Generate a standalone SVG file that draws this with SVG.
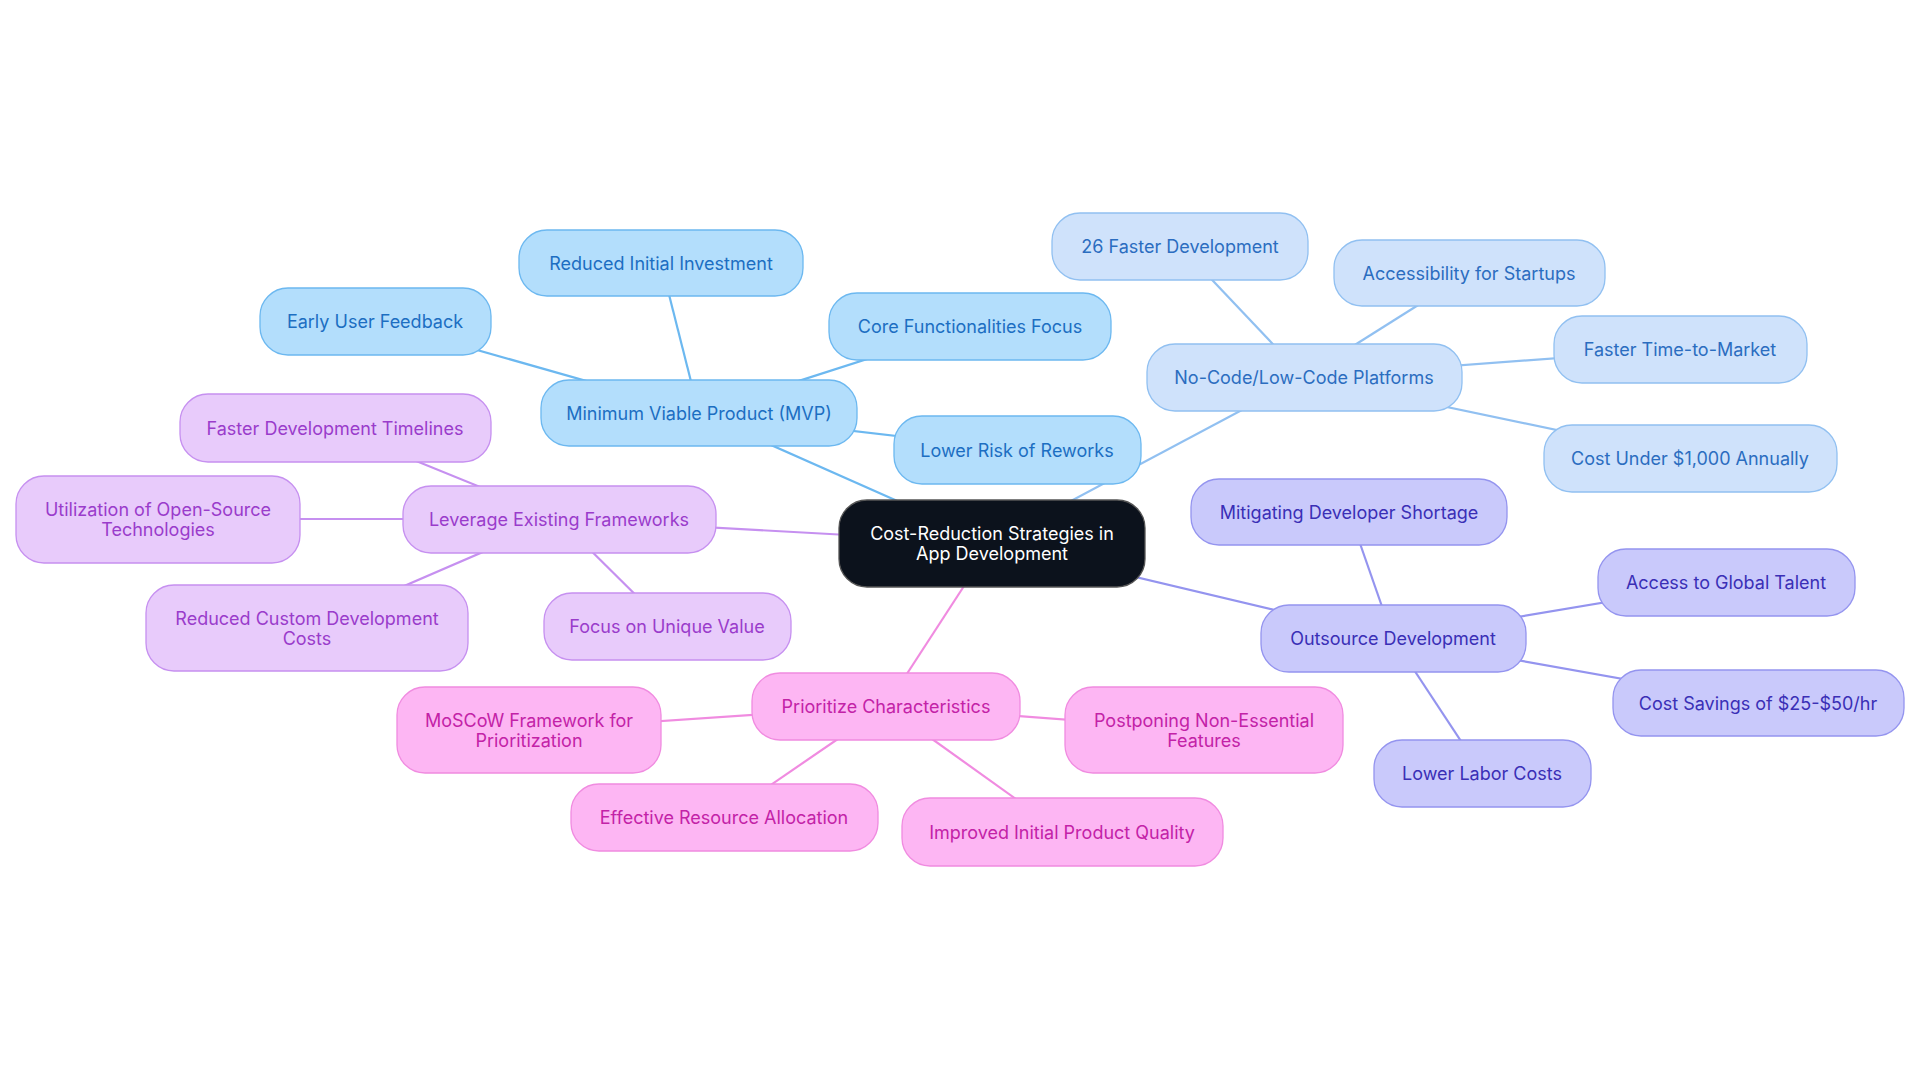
<svg xmlns="http://www.w3.org/2000/svg" width="1920" height="1083" viewBox="0 0 1920 1083">
<style>
text{font-family:Inter,"Noto Sans","Liberation Sans",sans-serif;font-size:18px;text-anchor:middle;dominant-baseline:central}
rect{stroke-width:1.3}
.c line{stroke-width:2.2}
.b rect{fill:#b3defc;stroke:#6cb8f0}.b text{fill:#1c6ec2}
.n rect{fill:#cfe2fb;stroke:#91c0f1}.n text{fill:#2b6dc0}
.o rect{fill:#c9c9fb;stroke:#9494ef}.o text{fill:#3a2fb6}
.l rect{fill:#e8cbfb;stroke:#c690f0}.l text{fill:#9a3ccb}
.p rect{fill:#fdb6f3;stroke:#f08be0}.p text{fill:#c322a7}
</style>
<rect width="1920" height="1083" fill="#fff" style="stroke:none"/>
<g class="c">
<g stroke="#6cb8f0"><line x1="992" y1="543" x2="699" y2="413"/><line x1="699" y1="413" x2="661" y2="263"/><line x1="699" y1="413" x2="375" y2="321"/><line x1="699" y1="413" x2="970" y2="326"/><line x1="699" y1="413" x2="1017" y2="450"/></g>
<g stroke="#91c0f1"><line x1="992" y1="543" x2="1304" y2="377"/><line x1="1304" y1="377" x2="1180" y2="246"/><line x1="1304" y1="377" x2="1469" y2="273"/><line x1="1304" y1="377" x2="1680" y2="349"/><line x1="1304" y1="377" x2="1690" y2="458"/></g>
<g stroke="#9494ef"><line x1="992" y1="543" x2="1393" y2="638"/><line x1="1393" y1="638" x2="1349" y2="512"/><line x1="1393" y1="638" x2="1726" y2="582"/><line x1="1393" y1="638" x2="1758" y2="703"/><line x1="1393" y1="638" x2="1482" y2="773"/></g>
<g stroke="#c690f0"><line x1="992" y1="543" x2="559" y2="519"/><line x1="559" y1="519" x2="335" y2="428"/><line x1="559" y1="519" x2="158" y2="519"/><line x1="559" y1="519" x2="307" y2="628"/><line x1="559" y1="519" x2="667" y2="626"/></g>
<g stroke="#f08be0"><line x1="992" y1="543" x2="886" y2="706"/><line x1="886" y1="706" x2="529" y2="730"/><line x1="886" y1="706" x2="1204" y2="730"/><line x1="886" y1="706" x2="724" y2="817"/><line x1="886" y1="706" x2="1062" y2="832"/></g>
</g>
<g id="center"><rect x="839" y="500" width="306" height="87" rx="28" fill="#0c121c" stroke="#555"/><text x="992" y="533" fill="#fff">Cost-Reduction Strategies in</text><text x="992" y="553" fill="#fff">App Development</text></g>
<g id="mvp" class="b"><rect x="541" y="380" width="316" height="66" rx="28"/><text x="699" y="413">Minimum Viable Product (MVP)</text></g>
<g id="rii" class="b"><rect x="519" y="230" width="284" height="66" rx="28"/><text x="661" y="263">Reduced Initial Investment</text></g>
<g id="euf" class="b"><rect x="260" y="288" width="231" height="67" rx="28"/><text x="375" y="321">Early User Feedback</text></g>
<g id="cff" class="b"><rect x="829" y="293" width="282" height="67" rx="28"/><text x="970" y="326">Core Functionalities Focus</text></g>
<g id="lrr" class="b"><rect x="894" y="416" width="247" height="68" rx="28"/><text x="1017" y="450">Lower Risk of Reworks</text></g>
<g id="ncl" class="n"><rect x="1147" y="344" width="315" height="67" rx="28"/><text x="1304" y="377">No-Code/Low-Code Platforms</text></g>
<g id="fd26" class="n"><rect x="1052" y="213" width="256" height="67" rx="28"/><text x="1180" y="246">26 Faster Development</text></g>
<g id="afs" class="n"><rect x="1334" y="240" width="271" height="66" rx="28"/><text x="1469" y="273">Accessibility for Startups</text></g>
<g id="ftm" class="n"><rect x="1554" y="316" width="253" height="67" rx="28"/><text x="1680" y="349">Faster Time-to-Market</text></g>
<g id="cu1k" class="n"><rect x="1544" y="425" width="293" height="67" rx="28"/><text x="1690" y="458">Cost Under $1,000 Annually</text></g>
<g id="out" class="o"><rect x="1261" y="605" width="265" height="67" rx="28"/><text x="1393" y="638">Outsource Development</text></g>
<g id="mds" class="o"><rect x="1191" y="479" width="316" height="66" rx="28"/><text x="1349" y="512">Mitigating Developer Shortage</text></g>
<g id="agt" class="o"><rect x="1598" y="549" width="257" height="67" rx="28"/><text x="1726" y="582">Access to Global Talent</text></g>
<g id="cs" class="o"><rect x="1613" y="670" width="291" height="66" rx="28"/><text x="1758" y="703">Cost Savings of $25-$50/hr</text></g>
<g id="llc" class="o"><rect x="1374" y="740" width="217" height="67" rx="28"/><text x="1482" y="773">Lower Labor Costs</text></g>
<g id="lef" class="l"><rect x="403" y="486" width="313" height="67" rx="28"/><text x="559" y="519">Leverage Existing Frameworks</text></g>
<g id="fdt" class="l"><rect x="180" y="394" width="311" height="68" rx="28"/><text x="335" y="428">Faster Development Timelines</text></g>
<g id="uos" class="l"><rect x="16" y="476" width="284" height="87" rx="28"/><text x="158" y="509">Utilization of Open-Source</text><text x="158" y="529">Technologies</text></g>
<g id="rcd" class="l"><rect x="146" y="585" width="322" height="86" rx="28"/><text x="307" y="618">Reduced Custom Development</text><text x="307" y="638">Costs</text></g>
<g id="fuv" class="l"><rect x="544" y="593" width="247" height="67" rx="28"/><text x="667" y="626">Focus on Unique Value</text></g>
<g id="pc" class="p"><rect x="752" y="673" width="268" height="67" rx="28"/><text x="886" y="706">Prioritize Characteristics</text></g>
<g id="msc" class="p"><rect x="397" y="687" width="264" height="86" rx="28"/><text x="529" y="720">MoSCoW Framework for</text><text x="529" y="740">Prioritization</text></g>
<g id="pne" class="p"><rect x="1065" y="687" width="278" height="86" rx="28"/><text x="1204" y="720">Postponing Non-Essential</text><text x="1204" y="740">Features</text></g>
<g id="era" class="p"><rect x="571" y="784" width="307" height="67" rx="28"/><text x="724" y="817">Effective Resource Allocation</text></g>
<g id="ipq" class="p"><rect x="902" y="798" width="321" height="68" rx="28"/><text x="1062" y="832">Improved Initial Product Quality</text></g>
</svg>
